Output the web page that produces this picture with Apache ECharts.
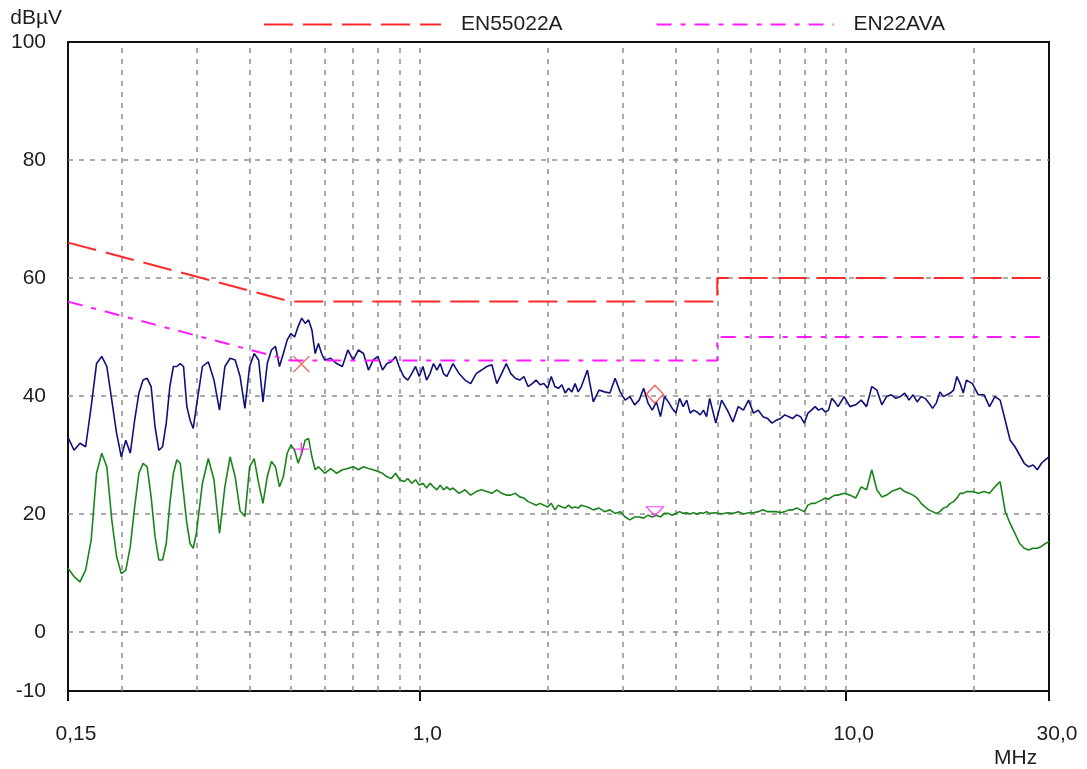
<!DOCTYPE html>
<html><head><meta charset="utf-8">
<script src="https://cdn.jsdelivr.net/npm/echarts@6/dist/echarts.min.js"></script>
<style>html,body{margin:0;padding:0;background:#fff}#c{width:1087px;height:769px}</style>
</head><body><div id="c"></div>
<script>
// Frequencies (MHz)
const freqs = [
0.150,0.155,0.160,0.165,0.170,0.175,0.180,0.185,0.190,0.195,0.200,0.205,0.210,0.215,0.220,0.225,0.230,0.235,0.240,0.245,0.250,0.255,0.260,0.265,0.270,0.275,0.280,0.285,0.290,0.295,
0.30,0.31,0.32,0.33,0.34,0.35,0.36,0.37,0.38,0.39,0.40,0.41,0.42,0.43,0.44,0.45,0.46,0.47,0.48,0.49,0.50,0.51,0.52,0.53,0.54,0.55,0.56,0.57,0.58,0.59,
0.60,0.62,0.64,0.66,0.68,0.70,0.72,0.74,0.76,0.78,0.80,0.82,0.84,0.86,0.88,0.90,0.92,0.94,0.96,0.98,1.00,1.02,1.04,1.06,1.08,1.10,1.12,1.14,1.16,1.18,
1.20,1.24,1.28,1.32,1.36,1.40,1.44,1.48,1.52,1.56,1.60,1.64,1.68,1.72,1.76,1.80,1.84,1.88,1.92,1.96,2.00,2.04,2.08,2.12,2.16,2.20,2.24,2.28,2.32,2.36,
2.40,2.48,2.56,2.64,2.72,2.80,2.88,2.96,3.04,3.12,3.20,3.28,3.36,3.44,3.52,3.60,3.68,3.76,3.84,3.92,4.00,4.08,4.16,4.24,4.32,4.40,4.48,4.56,4.64,4.72,
4.80,4.96,5.12,5.28,5.44,5.60,5.76,5.92,6.08,6.24,6.40,6.56,6.72,6.88,7.04,7.20,7.36,7.52,7.68,7.84,8.00,8.16,8.32,8.48,8.64,8.80,8.96,9.12,9.28,9.44,
9.60,9.92,10.24,10.56,10.88,11.20,11.52,11.84,12.16,12.48,12.80,13.12,13.44,13.76,14.08,14.40,14.72,15.04,15.36,15.68,16.00,16.32,16.64,16.96,17.28,17.60,17.92,18.24,18.56,18.88,
19.20,19.84,20.48,21.12,21.76,22.40,23.04,23.68,24.32,24.96,25.60,26.24,26.88,27.52,28.16,28.80,29.44,30.00
];
// Peak trace (dBµV)
const peakValues = [
33,30.8,32,31.4,38.2,45.5,46.7,45,39.3,33.7,29.7,32.5,30.3,35.9,40.5,42.7,43,41.6,34.8,30.8,31.4,35.4,41.6,45,45,45.5,45,38.2,35.9,34.5,
38.2,45,45.8,42.7,37.6,45,46.4,46.1,43.3,37.9,45,47.2,46.1,39,45.5,47.8,48.4,45,47.2,49.5,50.6,50,51.8,53.2,52.3,52.9,51.2,47.2,48.9,47.2,
46.1,46.4,45.5,45,47.8,46.1,47.8,47.2,44.4,46.1,46.7,44.4,45.5,45.8,46.7,44.7,43.3,42.7,43.8,45,43.3,45,42.7,43.8,45.5,44.4,45.5,43.8,43.3,44.4,
45.5,43.8,42.7,42.1,43.8,44.4,45,45.3,42.1,43.8,45.5,43.8,43,42.7,43.3,41.6,42.1,42.7,41.9,42.1,41.3,43.3,41.6,41.3,41.9,40.5,41.3,40.7,42.1,40.7,
41.6,44.4,39,41,40.7,40.5,43,40.7,39.3,39.9,38.5,39.3,41.3,38.8,37.6,39,36.5,39.9,39,37.9,37.1,39.6,38.2,39.3,37.1,37.6,37.3,36.8,37.6,36.5,
39.6,35.4,39.3,37.6,35.6,38.2,37.6,39.3,37.1,37.6,36.5,36.2,35.4,35.9,36.2,36.8,36.5,36.2,36.8,36.5,35.4,37.1,37.6,38.2,37.6,37.9,37.3,37.6,39.6,39,
38.2,39.9,38.2,38.5,39.3,38.2,41.6,41,38.5,39.9,40.2,39.6,39.9,40.5,39.3,40.2,39,39.9,39.6,38.8,37.9,38.8,40.7,39.9,40.2,40.5,41,43.3,42.1,40.5,
42.7,42.1,40.2,40.2,38.2,39.9,39.3,35.9,32.5,31.4,30,28.6,28,28.3,27.5,28.6,29.2,29.7
];
// Average trace (dBµV)
const avgValues = [
10.8,9.4,8.5,10.5,15.6,26.9,30.3,28,19,12.8,9.9,10.5,14.5,21.2,26.9,28.6,28,22.9,16.2,12.2,12.2,15,21.8,26.9,29.2,28.6,23.5,18.4,15,14.2,
16.7,25.2,29.4,25.8,16.7,24.6,29.7,26.3,20.5,19.6,28,29.4,25.2,21.8,26.3,28.9,28,24.6,26.3,30.3,31.7,30.8,28.6,30.3,32.5,32.8,29.7,27.5,28,27.5,
26.9,27.7,26.9,27.5,27.7,28,27.5,28,27.7,27.5,27.2,26.9,26.3,26,26.9,25.8,25.5,26,25.2,25.8,24.9,25.2,24.4,25.2,24.6,24.1,24.9,24.1,24.6,24.1,
24.4,23.5,24.1,23.2,23.8,24.1,23.8,23.5,24.1,23.5,23.2,23.2,23.5,22.9,22.7,22.1,21.8,21.5,21.8,21.5,21.2,21.8,20.7,21.5,21.2,21,21.5,21,21.2,21,
21.5,21.2,20.7,21,20.4,20.7,20.1,20.4,19.5,19,19.5,19.5,19.3,19.8,19.5,19.8,19.5,20.1,20.1,19.8,20.1,20.4,20.1,20.2,20,20.2,20,20.2,20.1,20.4,
20.1,20.2,20,20.2,20.1,20.4,20,20.2,20.2,20.4,20.7,20.4,20.4,20.4,20.2,20.4,20.7,20.7,21,20.7,20.4,21.5,21.8,21.8,22.1,22.4,22.7,22.5,22.9,23.2,
23.2,23.5,23.2,22.7,24.6,24.1,27.5,24.1,22.9,23.2,23.8,24.1,24.4,23.8,23.5,23.2,22.7,21.8,21.2,20.7,20.4,20.1,20.4,21,21.2,21.8,22.1,22.7,23.5,23.5,
23.8,23.8,23.5,23.8,23.5,24.6,25.5,20.4,18.4,16.7,15,14.2,13.9,14.2,14.2,14.5,15,15.3
];
// Limit lines
const limitQPFreqs = [0.15, 0.5, 5, 5, 30];
const limitQPValues = [66, 56, 56, 60, 60];
const limitAVFreqs = [0.15, 0.5, 5, 5, 30];
const limitAVValues = [56, 46, 46, 50, 50];
// Markers
const markerFreqs = [0.529, 3.57];
const markerQPValues = [45.4, 40.3];
const markerAVValues = [31.0, 20.45];
// Grid / tick values
const xGridValues = [0.2,0.3,0.4,0.5,0.6,0.7,0.8,0.9,1,2,3,4,5,6,7,8,9,10,20];
const yGridValues = [0,20,40,60,80];
const xTickLabels = [0.15, 1, 10, 30];
const yTickLabels = [-10, 0, 20, 40, 60, 80, 100];

const pairs = (xs, ys) => xs.map((x, i) => [x, ys[i]]);
const font = '"Liberation Sans", Arial, sans-serif';
const txt = '#1e1e1e';
const hidden = 'rgba(0,0,0,0)';

const chart = echarts.init(document.getElementById('c'));
chart.setOption({
  animation: false,
  backgroundColor: '#ffffff',
  textStyle: { fontFamily: font },
  grid: { left: 68, right: 38, top: 42, bottom: 78, show: true, borderColor: '#111', borderWidth: 2, backgroundColor: 'transparent' },
  legend: {
    data: ['EN55022A', 'EN22AVA'],
    left: 258, top: 9,
    itemWidth: 177, itemHeight: 14, itemGap: 93,
    itemStyle: { color: hidden, borderColor: hidden, borderWidth: 0, opacity: 0 },
    textStyle: { fontSize: 21, color: txt, fontFamily: font, padding: [0, 0, 0, 15] }
  },
  xAxis: {
    type: 'log', logBase: 10, min: 0.15, max: 30,
    axisLine: { onZero: false, lineStyle: { color: '#111', width: 2 } },
    axisTick: { show: true, inside: false, length: 10, lineStyle: { color: '#111', width: 2 } },
    splitLine: { show: false },
    axisLabel: {
      fontSize: 21, color: txt, fontFamily: font, margin: 33,
      showMinLabel: true, showMaxLabel: true, padding: [0, 0, 0, 16],
      formatter: v => {
        const m = xTickLabels.find(t => Math.abs(t - v) < 1e-6);
        if (m === undefined) return '';
        return (m < 1 ? m.toFixed(2) : m.toFixed(1)).replace('.', ',');
      }
    },
    name: 'MHz', nameLocation: 'end', nameGap: -55,
    nameTextStyle: { fontSize: 21, color: txt, fontFamily: font, align: 'left', verticalAlign: 'top', padding: [57, 0, 0, 0] }
  },
  yAxis: {
    type: 'value', min: -10, max: 100, interval: 10,
    axisLine: { show: true, onZero: false, lineStyle: { color: '#111', width: 2 } },
    axisTick: { show: false },
    splitLine: { show: false },
    axisLabel: {
      fontSize: 21, color: txt, fontFamily: font, margin: 22,
      formatter: v => (yTickLabels.indexOf(v) >= 0 ? String(v) : '')
    },
    name: 'dBµV', nameLocation: 'end', nameGap: 13,
    nameTextStyle: { fontSize: 21, color: txt, fontFamily: font, align: 'right', padding: [0, 6, 0, 0] }
  },
  series: [
    {
      name: 'EN55022A', type: 'line', z: 3, symbol: 'none', silent: true,
      data: pairs(limitQPFreqs, limitQPValues),
      lineStyle: { color: '#ff2a2a', width: 2, type: [29, 10] },
      itemStyle: { color: '#ff2a2a' }
    },
    {
      name: 'EN22AVA', type: 'line', z: 3, symbol: 'none', silent: true,
      data: pairs(limitAVFreqs, limitAVValues),
      lineStyle: { color: '#ff1aff', width: 2, type: [15, 9, 5, 9] },
      itemStyle: { color: '#ff1aff' }
    },
    {
      name: 'Peak', type: 'line', z: 2, symbol: 'none', silent: true,
      data: pairs(freqs, peakValues),
      lineStyle: { color: '#10107a', width: 1.6 },
      markLine: {
        z: 1, silent: true, symbol: ['none', 'none'], label: { show: false },
        lineStyle: { color: '#8e8e8e', type: [5, 6], width: 1.5 },
        data: xGridValues.map(v => ({ xAxis: v })).concat(yGridValues.map(v => ({ yAxis: v })))
      }
    },
    {
      name: 'Average', type: 'line', z: 2, symbol: 'none', silent: true,
      data: pairs(freqs, avgValues),
      lineStyle: { color: '#1a841a', width: 1.6 }
    },
    {
      name: 'QP marker peak', type: 'scatter', z: 4, silent: true,
      data: [[markerFreqs[0], markerQPValues[0]]],
      symbol: 'path://M0,0L10,10M10,0L0,10', symbolSize: [16, 16],
      itemStyle: { color: 'none', borderColor: '#ff2a2a', borderWidth: 1.3 }
    },
    {
      name: 'QP marker diamond', type: 'scatter', z: 4, silent: true,
      data: [[markerFreqs[1], markerQPValues[1]]],
      symbol: 'diamond', symbolSize: [17, 18],
      itemStyle: { color: 'none', borderColor: '#ff2a2a', borderWidth: 1.3 }
    },
    {
      name: 'AV marker plus', type: 'scatter', z: 4, silent: true,
      data: [[markerFreqs[0], markerAVValues[0]]],
      symbol: 'path://M5,0L5,10M0,5L10,5', symbolSize: [15, 13],
      itemStyle: { color: 'none', borderColor: '#ff1aff', borderWidth: 1.5 }
    },
    {
      name: 'AV marker triangle', type: 'scatter', z: 4, silent: true,
      data: [[markerFreqs[1], markerAVValues[1]]],
      symbol: 'triangle', symbolRotate: 180, symbolSize: [17, 9],
      itemStyle: { color: 'none', borderColor: '#ff1aff', borderWidth: 1.3 }
    }
  ]
});
</script>
</body></html>
